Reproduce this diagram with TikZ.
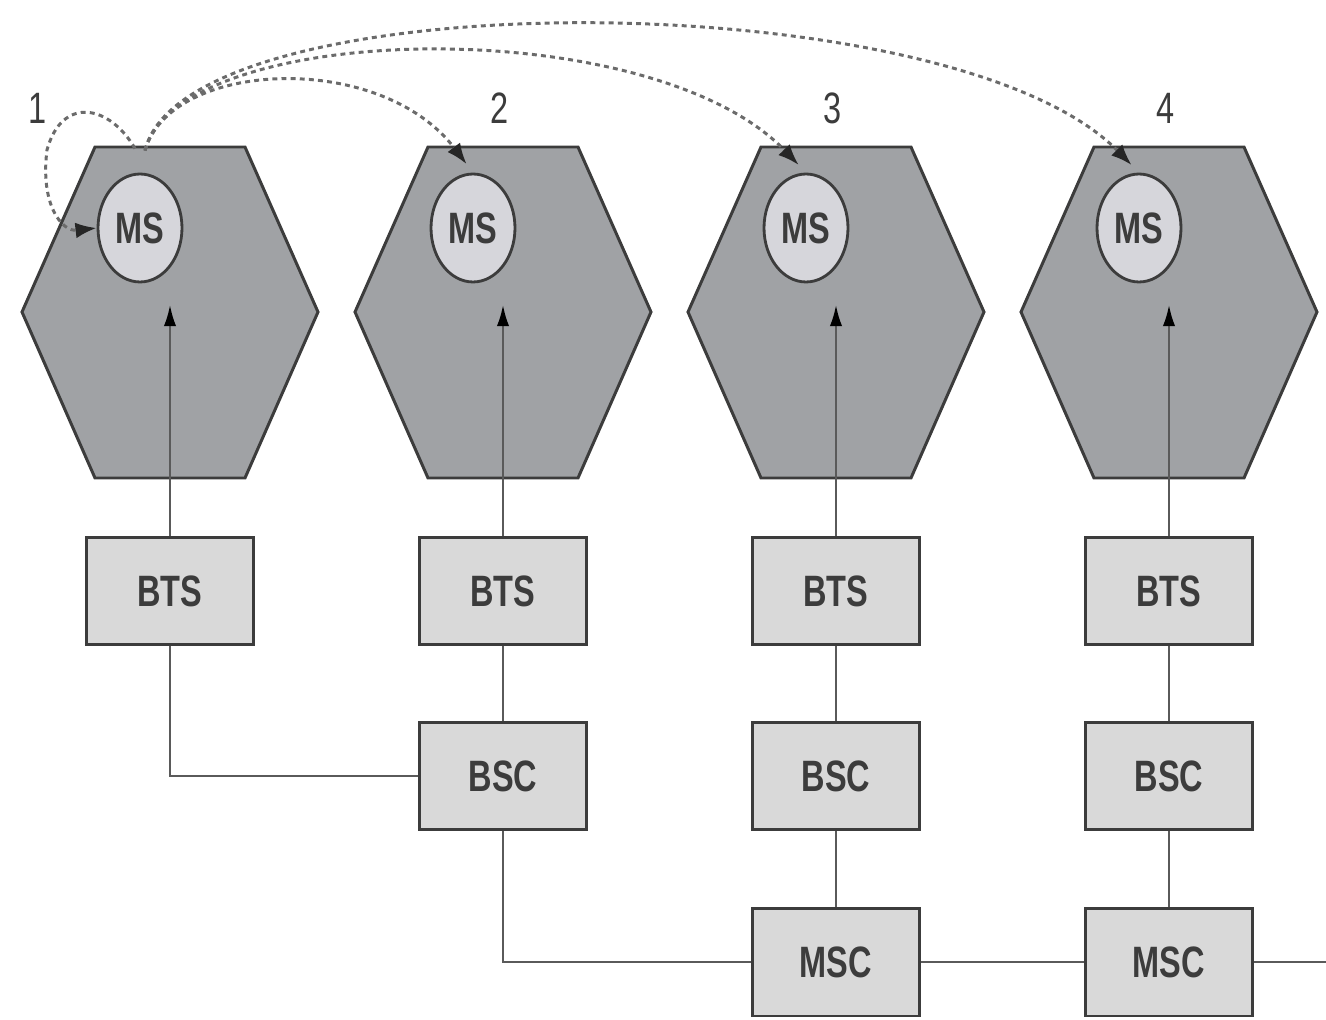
\documentclass[tikz,border=0pt]{standalone}
\usepackage{fontspec}
\usepackage{tikz}
\usetikzlibrary{shapes.geometric, arrows.meta, positioning, calc}
\newfontfamily\cellfont[FakeStretch=0.74]{Liberation Sans}
\definecolor{hexgray}{RGB}{160, 162, 165}
\definecolor{edgegray}{RGB}{60, 60, 60}
\definecolor{boxgray}{RGB}{217, 217, 217}
\definecolor{msgray}{RGB}{214, 214, 219}
\definecolor{txtgray}{RGB}{60, 60, 60}
\definecolor{wiregray}{RGB}{90, 90, 90}

\begin{document}
\begin{tikzpicture}[x=0.02cm, y=-0.02cm,
        cell/.style={draw=edgegray, line width=1.7pt, fill=hexgray},
        unit/.style={draw=edgegray, line width=1.7pt, fill=boxgray, minimum width=3.34cm, minimum height=2.16cm, inner sep=0pt, text=txtgray, font=\cellfont\bfseries\fontsize{25}{28}\selectfont},
        ms/.style={ellipse, draw=edgegray, line width=1.6pt, fill=msgray, minimum width=1.68cm, minimum height=2.16cm, inner sep=0pt, text=txtgray, font=\cellfont\bfseries\fontsize{25}{28}\selectfont},
        num/.style={text=txtgray, inner sep=0pt, font=\cellfont\fontsize{25}{27}\selectfont},
        wire/.style={draw=wiregray, line width=1.2pt},
        hop/.style={draw=wiregray!90, line width=1.7pt, dash pattern=on 2.8pt off 2.4pt, -{Latex[length=12pt, width=9pt, color=black!85]}}]
        \useasboundingbox (0,0) rectangle (1326,1020);
        \foreach \i/\lx in {1/38, 2/500, 3/833, 4/1166} {
            \pgfmathsetmacro{\X}{170+333*(\i-1)}
            \draw[cell] (\X-75,147) -- (\X+75,147) -- (\X+148,312) -- (\X+75,478) -- (\X-75,478) -- (\X-148,312) -- cycle;
            \node[ms] (ms\i) at (\X-30,228) {MS};
            \node[unit] (bts\i) at (\X,591) {BTS};
            \coordinate (up\i) at (\X,305);
            \draw[wire, -{Latex[length=12pt, width=7pt, color=black]}] (bts\i.north) -- (up\i);
            \node[num] (lbl\i) at (\lx,108) {\i};
        }
        \foreach \i in {2,3,4} {
            \node[unit] (bsc\i) at ($(bts\i)+(0,185)$) {BSC};
        }
        \foreach \i in {3,4} {
            \node[unit] (msc\i) at ($(bts\i)+(0,371)$) {MSC};
        }
        \coordinate (trunk) at (1326,962);

        \draw[wire] (bts1.south) |- (bsc2.west);
        \draw[wire] (bts2) -- (bsc2);
        \draw[wire] (bsc2.south) |- (msc3.west);
        \draw[wire] (bts3) -- (bsc3) -- (msc3);
        \draw[wire] (bts4) -- (bsc4) -- (msc4);
        \draw[wire] (msc3) -- (msc4) -- (trunk);

        \coordinate (src) at ($(ms1.north)+(5,-22)$);
        \coordinate (loop) at ($(ms1.north)+(-5,-24)$);
        \draw[hop] (loop) .. controls (110,105) and (62,95) .. (47,150) .. controls (40,205) and (62,232) .. (ms1.west);
        \draw[hop, shorten >=6pt] (src) .. controls (170,60) and (380,50) .. (ms2.north);
        \draw[hop, shorten >=6pt] (src) .. controls (180,20) and (650,10) .. (ms3.north);
        \draw[hop, shorten >=6pt] (src) .. controls (185,-20) and (950,-20) .. (ms4.north);
    \end{tikzpicture}
\end{document}
